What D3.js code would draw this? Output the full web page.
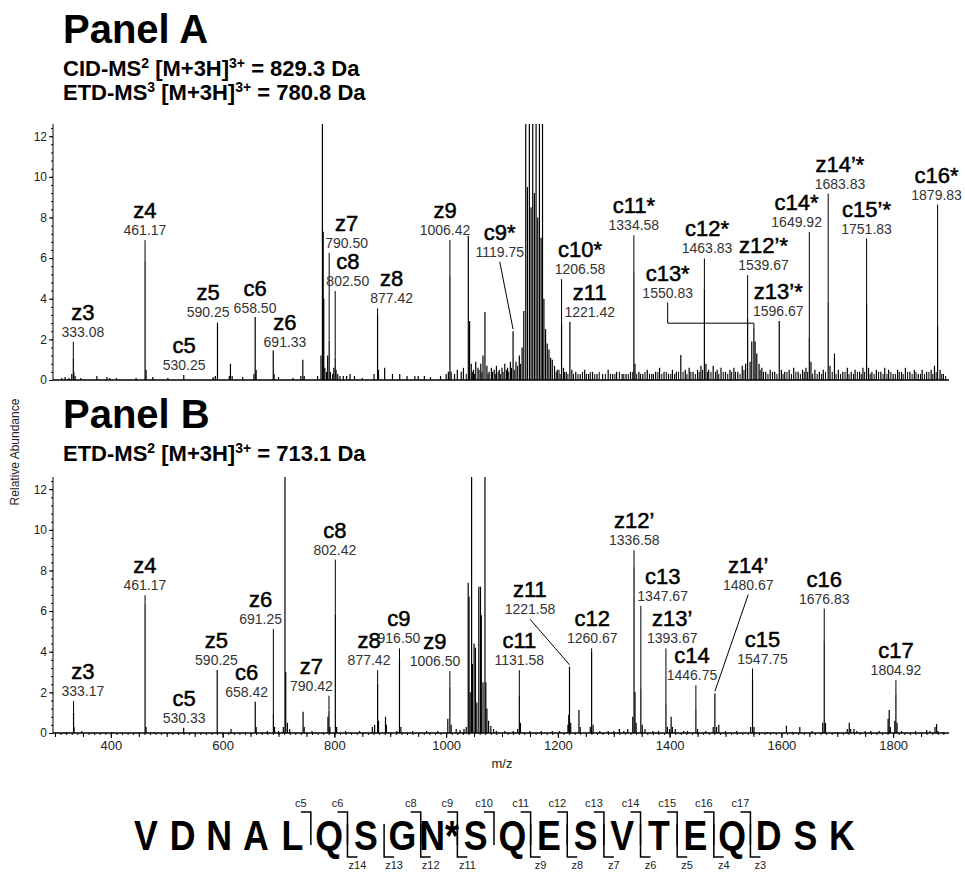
<!DOCTYPE html>
<html>
<head>
<meta charset="utf-8">
<script src="https://cdn.jsdelivr.net/npm/d3@7"></script>
<style>
body { margin: 0; background: #fff; }
text { font-family: Arial, "Liberation Sans", sans-serif; }
</style>
</head>
<body>
<div id="chart"></div>
<script>
// Panel A spectrum: [m/z, relative abundance]
var peaksA = [
  [312,0.1],[318,0.15],[325,0.1],[330,0.3],[332.8,1.1],[333.6,0.4],[336,0.2],[346,0.1],[375,0.2],[393,0.15],[398,0.1],
  [410,0.1],[445,0.1],[461.2,5.9],[463,0.5],[475,0.15],[502,0.1],[530.5,0.25],[583,0.15],[587,0.2],[590.8,2.8],
  [612,0.2],[614,0.8],[617,0.2],[636,0.15],[656,0.3],[658.3,3.1],[660,0.5],[690.6,1.45],[692,0.3],[700,0.15],
  [726,0.1],[740,0.2],[743.5,1.0],[746,0.2],[770,0.2],[776,1.2],[778.6,14],[780,7.3],[781,4.0],[783,0.6],[786,0.4],
  [788,1.2],[790.7,1.95],[793,0.4],[797,0.3],[799,0.6],[801.5,1.1],[803,0.5],[806,0.3],[810,0.2],[816,0.2],
  [822,0.2],[828,0.3],[836,0.2],[850,0.1],[871,0.3],[877.3,3.2],[879,0.5],[890,0.6],[904,0.3],[917,0.3],[930,0.2],
  [944,0.2],[950,0.2],[961,0.2],[972,0.15],[990,0.2],[1000,0.3],[1004,0.4],[1006.8,5.15],[1009,0.4],[1015,0.3],
  [1020,0.5],[1027,0.4],[1031,0.6],[1039.7,7.1],[1042,2.9],[1045,0.8],[1049,0.5],[1053,0.9],[1057,0.6],[1062,0.8],
  [1066,1.2],[1069.5,3.35],[1073,0.7],[1077,0.4],[1081,0.6],[1086,0.5],[1090,0.7],[1095,0.5],[1100,0.6],
  [1105,0.8],[1110,0.6],[1115,0.9],[1119.8,2.4],[1125,0.9],[1131,1.2],[1136,1.6],[1139,3.4],[1142.5,14],[1145.5,9.5],
  [1149,14],[1152,8.5],[1155,14],[1158,9.2],[1161,14],[1164,8.0],[1167,14],[1170,7.0],[1172.5,14],[1175,4.0],
  [1178,2.5],[1181,1.8],[1184,1.5],[1187,1.1],[1190,1.0],[1194,0.7],[1199,0.5],
  [1206.6,2.8],[1210,0.6],[1215,0.4],[1221.5,2.85],[1225,0.5],[1232,0.4],[1240,0.3],[1248,0.5],[1255,0.3],
  [1262,0.4],[1270,0.3],[1280,0.3],[1290,0.5],[1298,0.3],[1305,0.4],[1315,0.3],[1322,0.3],[1330,0.4],[1336,5.3],
  [1338,0.8],[1345,0.4],[1352,0.3],[1360,0.5],[1368,0.3],[1375,0.4],[1382,0.6],[1390,0.4],[1398,0.3],[1405,0.5],
  [1412,0.4],[1420,1.23],[1428,0.5],[1435,0.6],[1442,0.4],[1450,0.5],[1456,0.7],[1462.2,4.5],[1465,0.8],[1470,0.5],
  [1478,0.7],[1485,0.5],[1492,0.6],[1500,0.4],[1508,0.5],[1515,0.6],[1522,0.4],[1530,0.7],[1536,0.8],[1539.6,3.0],
  [1544,0.9],[1547,1.9],[1550.8,2.6],[1553,1.9],[1556,1.3],[1560,0.8],[1565,0.6],[1572,0.4],[1580,0.5],[1588,0.4],
  [1596.2,2.9],[1600,0.5],[1606,0.4],[1614,0.5],[1622,0.6],[1630,0.4],[1638,0.5],[1644,0.6],[1650,2.1],[1653,0.9],
  [1660,0.5],[1668,0.4],[1675,0.5],[1683.8,3.85],[1687,0.7],[1695,1.3],[1702,0.5],[1710,0.4],[1718,0.6],[1725,0.4],
  [1732,0.5],[1740,0.4],[1746,0.6],[1752.5,3.8],[1756,0.6],[1762,0.4],[1770,0.5],[1778,0.4],[1785,0.6],[1792,0.5],
  [1800,0.3],[1808,0.5],[1815,0.4],[1822,0.6],[1830,0.4],[1838,0.5],[1845,0.3],[1852,0.5],[1860,0.4],[1868,0.5],
  [1874,0.7],[1879.6,2.7],[1884,0.5],[1890,0.3]
];

// Panel A low-level grass between the labelled peaks: [m/z, relative abundance]
var grassA = [
  [1036,0.3],[1047,0.4],[1051,0.3],[1059,0.5],[1064,0.4],[1075,0.3],[1083,0.4],[1088,0.3],[1093,0.4],[1097,0.3],
  [1102,0.4],[1108,0.5],[1112,0.4],[1117,0.6],[1122,0.5],[1128,0.7],[1133,0.8],[1197,0.4],[1202,0.5],[1204,0.3],
  [1212,0.4],[1218,0.3],[1228,0.3],[1236,0.3],[1244,0.4],[1251,0.3],[1258,0.4],[1266,0.3],[1274,0.4],[1285,0.3],
  [1294,0.3],[1302,0.3],[1310,0.4],[1318,0.3],[1326,0.3],[1334,0.4],[1341,0.3],[1348,0.3],[1356,0.4],[1364,0.3],
  [1371,0.3],[1379,0.4],[1386,0.3],[1394,0.4],[1402,0.3],[1409,0.3],[1416,0.4],[1424,0.4],[1431,0.3],[1438,0.4],
  [1446,0.3],[1453,0.4],[1459,0.5],[1468,0.4],[1474,0.4],[1482,0.4],[1488,0.3],[1496,0.4],[1504,0.3],[1511,0.4],
  [1518,0.4],[1526,0.3],[1533,0.5],[1562,0.5],[1568,0.4],[1576,0.3],[1584,0.4],[1592,0.3],[1603,0.3],[1610,0.4],
  [1618,0.3],[1626,0.4],[1634,0.3],[1641,0.4],[1647,0.4],[1656,0.3],[1664,0.3],[1672,0.3],[1679,0.4],[1691,0.4],
  [1698,0.3],[1706,0.3],[1714,0.4],[1721,0.3],[1729,0.3],[1736,0.4],[1743,0.3],[1749,0.4],[1759,0.3],[1766,0.3],
  [1774,0.4],[1782,0.3],[1789,0.3],[1796,0.4],[1804,0.3],[1811,0.4],[1818,0.3],[1826,0.4],[1834,0.3],[1841,0.4],
  [1849,0.3],[1856,0.3],[1864,0.4],[1871,0.3],[1877,0.4],[1887,0.3],[1894,0.2]
];

// Panel B spectrum: [m/z, relative abundance]
var peaksB = [
  [320,0.05],[333.2,1.0],[334,0.3],[348,0.1],[402,0.05],[461.2,6.37],[463,0.3],[478,0.05],[530.3,0.26],[590.3,3.1],
  [615,0.2],[640,0.05],[658.4,1.54],[660,0.3],[680,0.1],[690.8,0.97],[693,0.3],[700,0.1],[708.6,0.3],[711.6,14],
  [713,3.0],[716,0.5],[720,0.2],[744,1.05],[746,0.3],[760,0.1],[788.5,0.8],[790.3,1.1],[792,0.3],[801.7,5.88],
  [804,0.3],[820,0.1],[845,0.1],[868,0.3],[872,0.4],[877.4,2.44],[879,0.6],[891.5,0.8],[893,0.4],[912,0.1],
  [916.5,3.59],[919,0.3],[940,0.1],[965,0.1],[985,0.1],[1003,0.7],[1006.7,2.27],[1009,0.4],[1018,0.2],[1025,0.15],
  [1032,0.2],[1036,0.3],[1039.5,7.4],[1041,6.7],[1043,2.0],[1045.6,14],[1047,3.4],[1050,4.4],[1052.5,4.2],
  [1055,1.5],[1058.5,7.2],[1061.5,7.2],[1063,5.8],[1066,2.5],[1069.5,14],[1071,2.5],[1073,1.2],[1076,0.6],
  [1080,0.35],[1085,0.2],[1090,0.1],[1105,0.1],[1120,0.1],[1128,0.2],[1131,1.82],[1133,0.5],[1150,0.1],[1170,0.1],
  [1190,0.1],[1203,0.1],[1218,0.4],[1219.5,0.9],[1220.8,3.26],[1223,0.5],[1237.7,1.13],[1240,0.3],[1258,0.3],
  [1260.4,4.0],[1263,0.4],[1275,0.1],[1290,0.1],[1300,0.1],[1310,0.2],[1318,0.1],[1325,0.2],[1334,0.8],
  [1336.3,8.17],[1338,2.0],[1340,0.5],[1348.5,2.2],[1351,0.4],[1356,0.2],[1370,0.1],[1380,0.1],[1393.4,1.46],
  [1396,0.3],[1400,0.2],[1402.7,0.8],[1405,0.3],[1410,0.2],[1425,0.1],[1432,0.1],[1447,1.13],[1450,0.2],
  [1465,0.1],[1478,0.3],[1481,1.95],[1484,0.3],[1488,0.4],[1500,0.1],[1520,0.1],[1545,0.3],[1548.4,2.69],
  [1551,0.3],[1575,0.05],[1609,0.36],[1620,0.05],[1633,0.3],[1655,0.1],[1674,0.5],[1676.7,4.57],[1679,0.5],
  [1700,0.05],[1718,0.2],[1721.5,0.5],[1724,0.2],[1730,0.2],[1735,0.1],[1750,0.1],[1760,0.1],[1775,0.1],
  [1791,0.7],[1793,1.13],[1795,0.3],[1803,0.6],[1805,1.95],[1807,0.5],[1815,0.1],[1840,0.1],[1860,0.15],
  [1866,0.1],[1875,0.3],[1877.8,0.44],[1880,0.1],[1890,0.05]
];

// Annotated ions: [name, m/z text, peak m/z, peak top]
var ionsA = [
  ["z3","333.08",332.8,1.1],["z4","461.17",461.2,5.9],["c5","530.25",530.5,0.25],["z5","590.25",590.8,2.8],
  ["c6","658.50",658.3,3.1],["z6","691.33",690.6,1.45],["z7","790.50",790.7,1.95],["c8","802.50",801.5,1.1],
  ["z8","877.42",877.3,3.2],["z9","1006.42",1006.8,5.15],["c9*","1119.75",1119.8,2.4],["c10*","1206.58",1206.6,2.8],
  ["z11","1221.42",1221.5,2.85],["c11*","1334.58",1336,5.3],["c12*","1463.83",1462.2,4.5],["c13*","1550.83",1550.8,2.6],
  ["z12’*","1539.67",1539.6,3.0],["z13’*","1596.67",1596.2,2.9],["c14*","1649.92",1650,2.1],["z14’*","1683.83",1683.8,3.85],
  ["c15’*","1751.83",1752.5,3.8],["c16*","1879.83",1879.6,2.7]
];
var ionsB = [
  ["z3","333.17",333.2,1.0],["z4","461.17",461.2,6.37],["c5","530.33",530.3,0.26],["z5","590.25",590.3,3.1],
  ["c6","658.42",658.4,1.54],["z6","691.25",690.8,0.97],["z7","790.42",790.3,1.1],["c8","802.42",801.7,5.88],
  ["z8","877.42",877.4,2.44],["c9","916.50",916.5,3.59],["z9","1006.50",1006.7,2.27],["c11","1131.58",1131,1.82],
  ["z11","1221.58",1220.8,3.26],["c12","1260.67",1260.4,4.0],["z12’","1336.58",1336.3,8.17],["c13","1347.67",1348.5,2.2],
  ["z13’","1393.67",1393.4,1.46],["c14","1446.75",1447,1.13],["z14’","1480.67",1481,1.95],["c15","1547.75",1548.4,2.69],
  ["c16","1676.83",1676.7,4.57],["c17","1804.92",1805,1.95]
];

// where each label sits: [m/z, abundance of the number baseline, leader kind]
var placeA = [
  [350,2.13,"v"],[461,7.13,"v"],[531,0.49,"v"],[574,3.08,"v"],[658,3.31,"v"],[711.6,1.64,"v"],[822,6.5,"v"],
  [824,4.63,"v"],[902.5,3.77,"v"],[998,7.13,"v"],[1096,6.06,"d"],[1239.5,5.21,"v"],[1257,3.11,"v"],[1336,7.37,"v"],
  [1467,6.23,"v"],[1396.5,4.06,"e"],[1568,5.41,"v"],[1594.4,3.14,"v"],[1627.3,7.53,"v"],[1704.8,9.42,"v"],
  [1752.5,7.21,"v"],[1877.8,8.88,"v"]
];
var placeB = [
  [350,1.82,"v"],[461,7.03,"v"],[531,0.48,"v"],[589,3.34,"v"],[643,1.78,"v"],[668,5.36,"v"],[759,2.08,"v"],
  [801,8.78,"v"],[862,3.34,"v"],[915.6,4.41,"v"],[980,3.29,"v"],[1131,3.34,"v"],[1150,5.85,"d"],[1261.6,4.41,"v"],
  [1336.7,9.24,"v"],[1387.5,6.5,"v"],[1404.7,4.41,"v"],[1440,2.6,"v"],[1540.7,7.06,"d"],[1566.4,3.42,"v"],
  [1676.7,6.37,"v"],[1805,2.85,"v"]
];

var yTicks = [0, 2, 4, 6, 8, 10, 12];
var xTicks = [400, 600, 800, 1000, 1200, 1400, 1600, 1800];

// peptide sequence with fragment sites
var residues = ["V","D","N","A","L","Q","S","G","N*","S","Q","E","S","V","T","E","Q","D","S","K"];
var cSites = [5,6,8,9,10,11,12,13,14,15,16,17];
var zSites = [6,7,8,9,11,12,13,14,15,16,17];

var W = 965, H = 874;
var svg = d3.select("#chart").append("svg")
  .attr("width", W).attr("height", H);

var x = d3.scaleLinear().domain([300, 1900]).range([55, 949]);

function title(y0, big, lines) {
  svg.append("text").attr("x", 63).attr("y", y0)
    .style("font-size", "40px").style("font-weight", "bold").text(big);
  lines.forEach(function(l, i) {
    var tx = svg.append("text").attr("x", 63).attr("y", y0 + 33 + i * 24)
      .style("font-size", "22px").style("font-weight", "bold");
    tx.append("tspan").text(l[0]);
    tx.append("tspan").attr("dy", -8).style("font-size", "14px").text(l[1]);
    tx.append("tspan").attr("dy", 8).text(" [M+3H]");
    tx.append("tspan").attr("dy", -8).style("font-size", "14px").text("3+");
    tx.append("tspan").attr("dy", 8).text(" = " + l[2] + " Da");
  });
}

title(43, "Panel A", [["CID-MS", "2", "829.3"], ["ETD-MS", "3", "780.8"]]);
title(428, "Panel B", [["ETD-MS", "2", "713.1"]]);

function panel(top, peaks, ions, place, id, withTicks) {
  var y = d3.scaleLinear().domain([0, 12.6]).range([top + 256, top]);
  var g = svg.append("g");

  g.append("clipPath").attr("id", id).append("rect")
    .attr("x", 50).attr("y", top).attr("width", 910).attr("height", 257);

  // y axis
  var ya = g.append("g").attr("transform", "translate(53,0)")
    .call(d3.axisLeft(y).tickValues(yTicks).tickSize(4).tickPadding(2).tickFormat(d3.format("d")));
  ya.select(".domain").attr("d", "M0," + y(0) + "V" + top).attr("stroke", "#000");
  ya.selectAll("text").style("font-size", "12px").style("font-family", "Arial").attr("fill", "#222");
  g.append("g").attr("transform", "translate(53,0)")
    .call(d3.axisLeft(y).tickValues(d3.range(0, 12.6, 0.4)).tickSize(2).tickFormat(""))
    .select(".domain").remove();

  // baseline
  g.append("line").attr("x1", 53).attr("x2", 949).attr("y1", y(0)).attr("y2", y(0))
    .attr("stroke", "#000").attr("stroke-width", 1.5);

  if (withTicks) {
    var xa = g.append("g").attr("transform", "translate(0," + y(0) + ")")
      .call(d3.axisBottom(x).tickValues(xTicks).tickSize(5).tickPadding(3).tickFormat(d3.format("d")));
    xa.select(".domain").remove();
    xa.selectAll("text").style("font-size", "13px").style("font-family", "Arial").attr("fill", "#222");
    g.append("g").attr("transform", "translate(0," + y(0) + ")")
      .call(d3.axisBottom(x).tickValues(d3.range(300, 1900, 50)).tickSize(4).tickFormat(""))
      .select(".domain").remove();
    g.append("g").attr("transform", "translate(0," + y(0) + ")")
      .call(d3.axisBottom(x).tickValues(d3.range(300, 1900, 10)).tickSize(2).tickFormat(""))
      .select(".domain").remove();
  }

  // sticks
  g.append("g").attr("clip-path", "url(#" + id + ")")
    .selectAll("line").data(peaks).enter().append("line")
    .attr("x1", function(d) { return x(d[0]); })
    .attr("x2", function(d) { return x(d[0]); })
    .attr("y1", y(0))
    .attr("y2", function(d) { return y(d[1]); })
    .attr("stroke", "#000").attr("stroke-width", 1.2);

  // annotations
  ions.forEach(function(d, i) {
    var p = place[i];
    var lx = x(p[0]), ly = y(p[1]);
    var px = x(d[2]), py = y(d[3]);
    g.append("text").attr("x", lx).attr("y", ly - 17).attr("text-anchor", "middle")
      .style("font-size", "22px").attr("stroke", "#000").attr("stroke-width", 0.5).text(d[0]);
    g.append("text").attr("x", lx).attr("y", ly).attr("text-anchor", "middle")
      .style("font-size", "14px").attr("fill", "#333").text(d[1]);
    var path;
    if (p[2] == "d") {
      path = "M" + lx + "," + (ly + 5) + "L" + px + "," + (py - 2);
    } else if (p[2] == "e") {
      path = "M" + lx + "," + (ly + 5) + "V" + (py - 4) + "H" + px + "V" + py;
    } else {
      if (ly + 5 >= py) return;
      path = "M" + px + "," + (ly + 5) + "V" + py;
    }
    g.append("path").attr("d", path).attr("fill", "none").attr("stroke", "#000").attr("stroke-width", 1);
  });
  return { g: g, y: y };
}

var pA = panel(124, peaksA, ionsA, placeA, "clipA", false);
panel(477, peaksB, ionsB, placeB, "clipB", true);

// grass of panel A
pA.g.append("g").selectAll("line").data(grassA).enter().append("line")
  .attr("x1", function(d) { return x(d[0]); })
  .attr("x2", function(d) { return x(d[0]); })
  .attr("y1", pA.y(0))
  .attr("y2", function(d) { return pA.y(d[1]); })
  .attr("stroke", "#000").attr("stroke-width", 1);

// axis titles
svg.append("text").attr("transform", "translate(19,452) rotate(-90)")
  .attr("text-anchor", "middle").style("font-size", "12px").attr("fill", "#222").text("Relative Abundance");
svg.append("text").attr("x", 502).attr("y", 768).attr("text-anchor", "middle")
  .style("font-size", "13px").attr("fill", "#222").text("m/z");

// sequence
var sx = d3.scalePoint().domain(d3.range(residues.length)).range([146, 842]);
var seqY = 850;
svg.append("g").selectAll("text").data(residues).enter().append("text")
  .attr("transform", function(d, i) { return "translate(" + sx(i) + "," + seqY + ") scale(0.85,1)"; })
  .attr("text-anchor", "middle")
  .style("font-size", "42px").style("font-weight", "bold")
  .text(function(d) { return d; });

function cut(n) { return (sx(n - 1) + sx(n)) / 2; }
cSites.forEach(function(n) {
  var cx = cut(n);
  svg.append("path").attr("d", "M" + (cx - 10) + ",812H" + cx + "V845")
    .attr("fill", "none").attr("stroke", "#000").attr("stroke-width", 1.5);
  svg.append("text").attr("x", cx - 10).attr("y", 807).attr("text-anchor", "middle")
    .style("font-size", "11px").attr("fill", "#222").text("c" + n);
});
zSites.forEach(function(n) {
  var cx = cut(n);
  svg.append("path").attr("d", "M" + cx + ",824V857H" + (cx + 10))
    .attr("fill", "none").attr("stroke", "#000").attr("stroke-width", 1.5);
  svg.append("text").attr("x", cx + 10).attr("y", 869).attr("text-anchor", "middle")
    .style("font-size", "11px").attr("fill", "#222").text("z" + (20 - n));
});
</script>
</body>
</html>
